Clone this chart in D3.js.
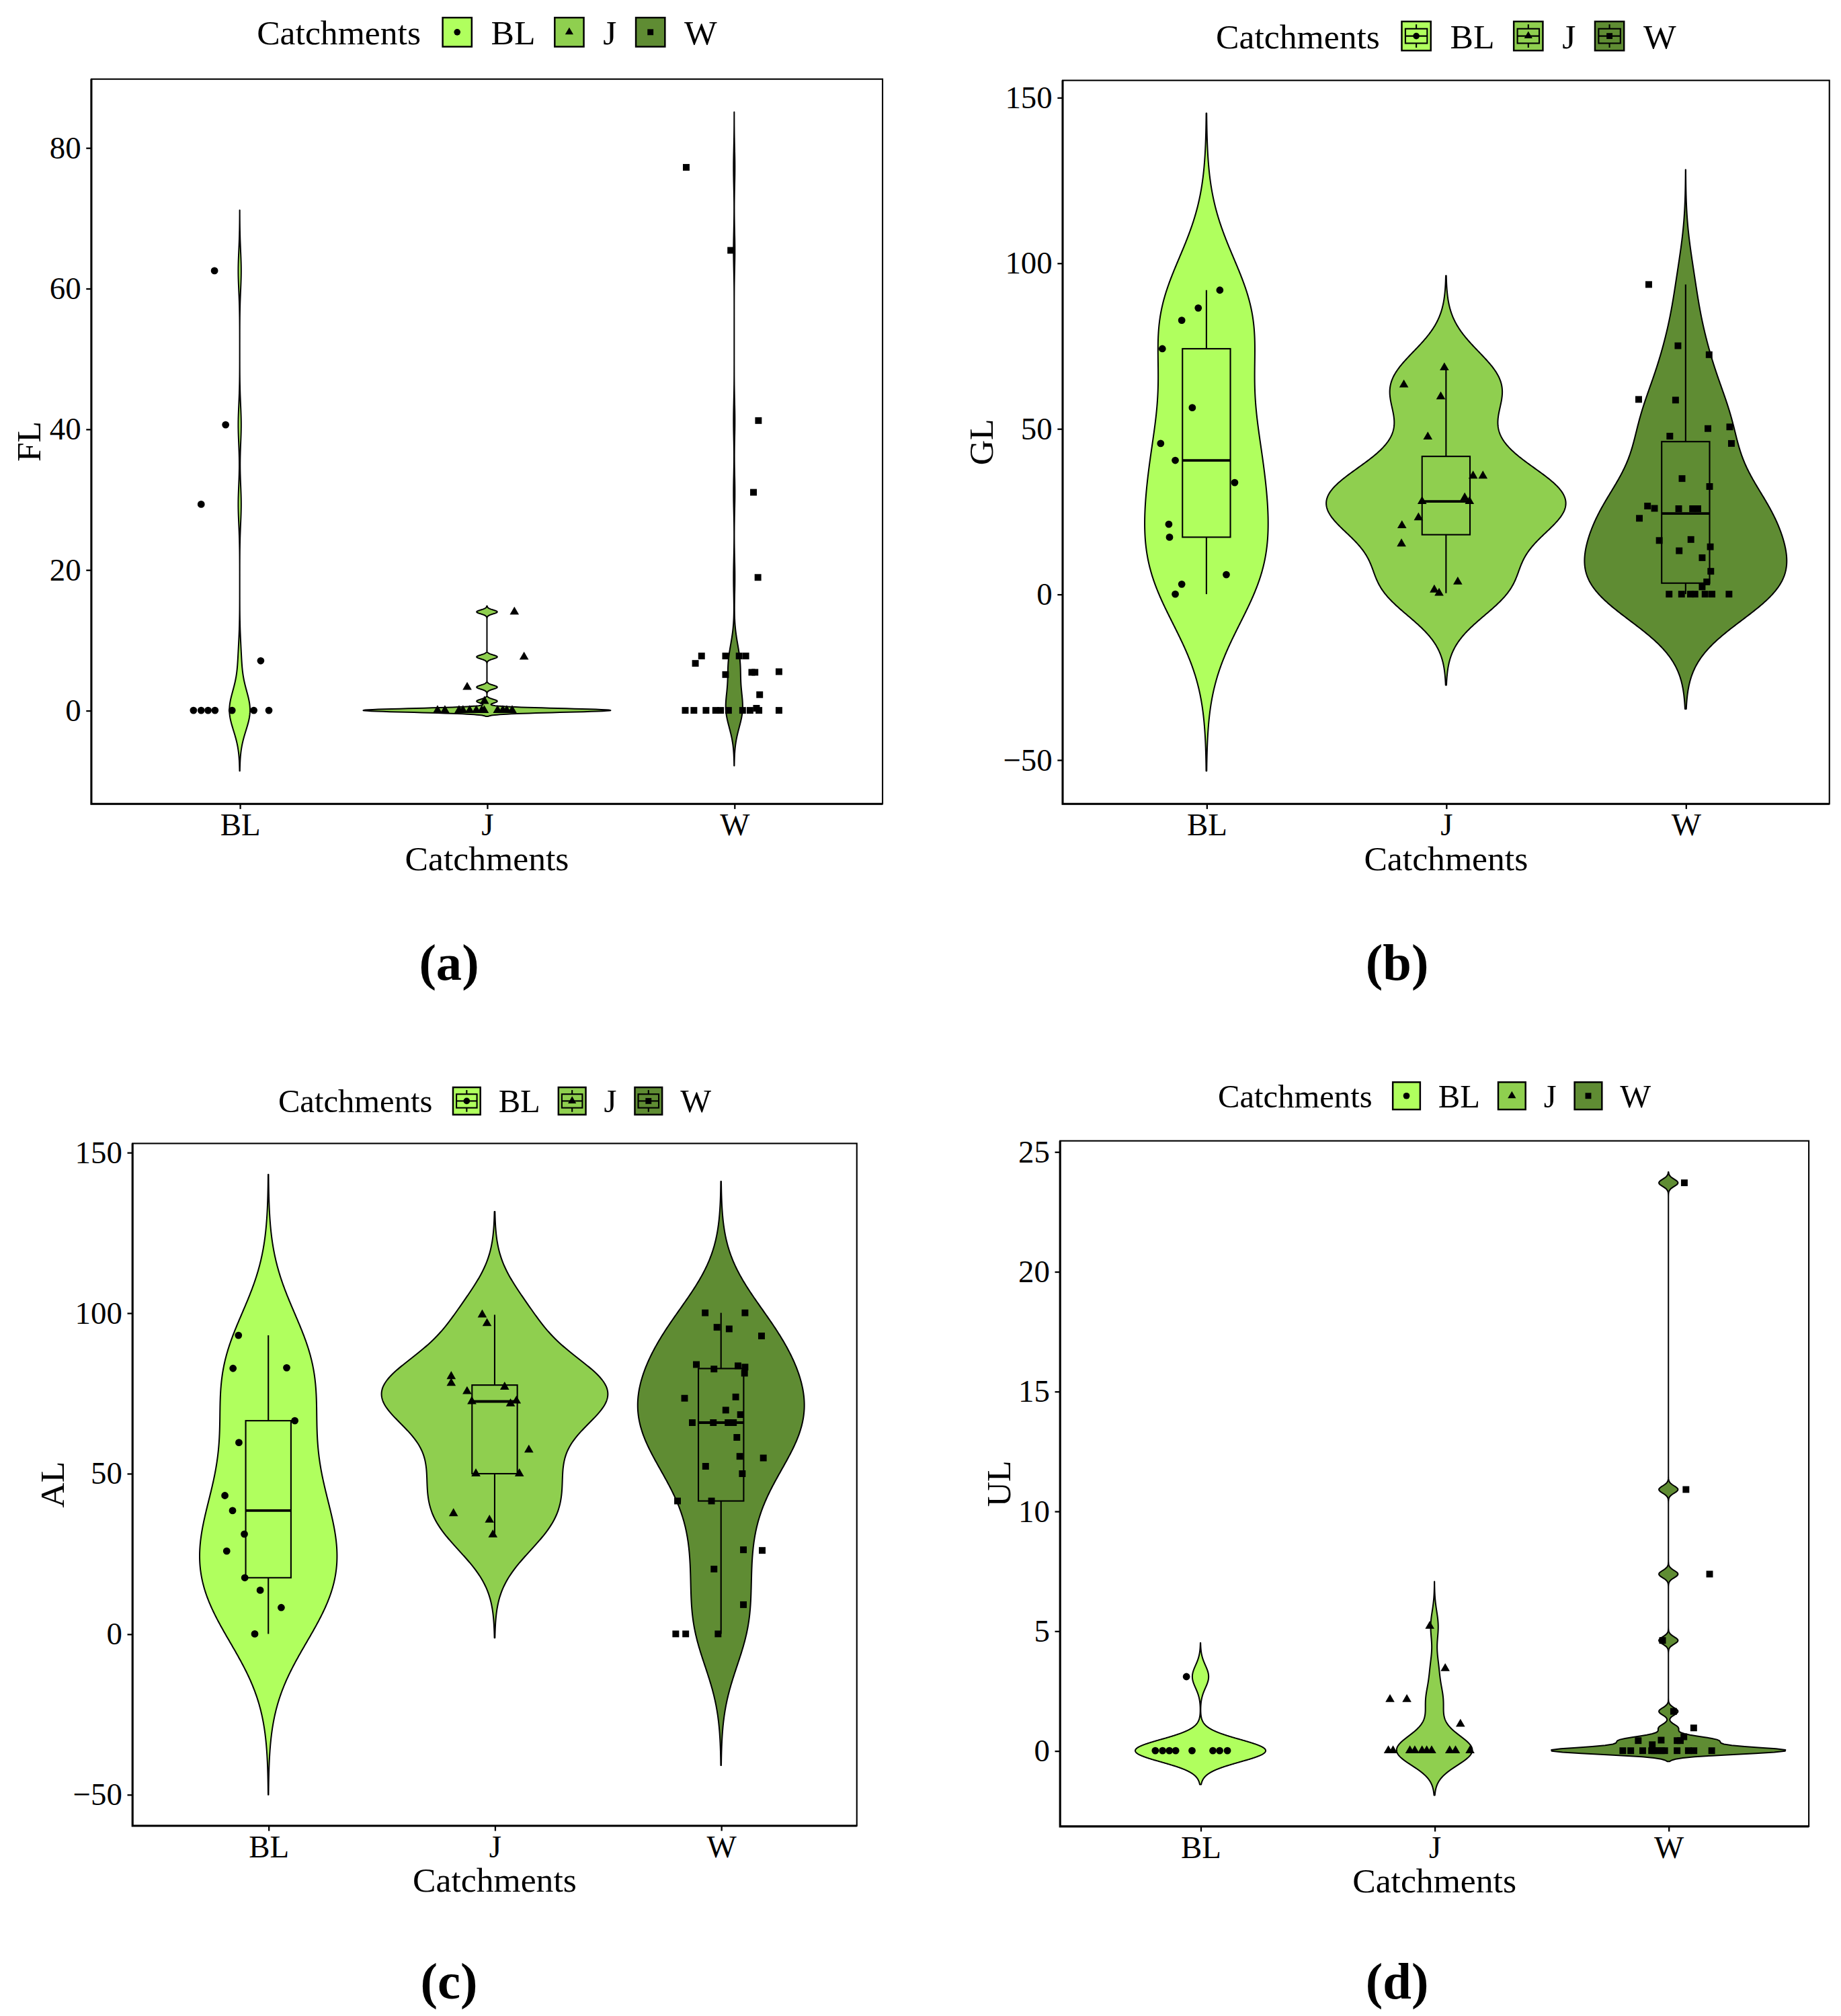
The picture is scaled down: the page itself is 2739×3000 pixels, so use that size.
<!DOCTYPE html>
<html>
<head>
<meta charset="utf-8">
<script src="https://cdnjs.cloudflare.com/ajax/libs/d3/7.8.5/d3.min.js"></script>
<style>
  body { margin: 0; background: #fff; }
  text { font-family: "Liberation Serif", "Times New Roman", serif; fill: #000; }
</style>
</head>
<body>
<script>
// catchments and their fills
const catchments = ["BL", "J", "W"];
const fills = ["#b0ff5e", "#8fcf4f", "#5f8c33"];

// (a) FL values and horizontal jitter (in category units)
const flBL = [0, 0, 0, 0, 0, 0, 0, 7.05, 29.3, 40.6, 62.5];
const flBLjit = [-0.187, -0.156, -0.128, -0.100, -0.031, 0.057, 0.118, 0.085, -0.156, -0.057, -0.102];
const flJ = [0, 0, 0, 0, 0, 0, 0, 0, 0, 0, 0, 0, 1.3, 3.3, 7.6, 14.0];
const flJjit = [-0.2, -0.17, -0.113, -0.097, -0.07, -0.043, -0.021, -0.011, 0.043, 0.064, 0.08, 0.102, -0.01, -0.08, 0.15, 0.111];
const flW = [77.2, 65.4, 41.2, 31.0, 18.9, 7.73, 6.68, 7.73, 7.73, 7.73, 5.09, 5.41, 5.41, 5.5, 2.23, 0.3, 0, 0, 0, 0, 0, 0, 0, 0, 0, 0];
const flWjit = [-0.194, -0.014, 0.098, 0.078, 0.096, -0.132, -0.157, -0.035, 0.02, 0.047, -0.035, 0.071, 0.084, 0.181, 0.103, 0.09, -0.198, -0.163, -0.114, -0.075, -0.055, -0.023, 0.034, 0.064, 0.1, 0.181];
const flBw = [2.87, 0.28, 2.62];
const flTicks = [0, 20, 40, 60, 80];

// (b) GL
const glBL = [91.8, 86.4, 82.7, 74.1, 56.3, 45.5, 40.4, 33.7, 21.1, 17.2, 5.9, 3.0, 0];
const glBLjit = [0.056, -0.034, -0.103, -0.184, -0.059, -0.191, -0.130, 0.118, -0.157, -0.154, 0.083, -0.103, -0.130];
const glJ = [68.4, 63.2, 59.6, 47.5, 35.7, 35.7, 29.1, 28.0, 28.0, 20.7, 23.1, 15.2, 1.3, 0.3, 3.7];
const glJjit = [-0.007, -0.176, -0.022, -0.076, 0.113, 0.154, 0.078, 0.098, -0.100, -0.184, -0.115, -0.186, -0.049, -0.029, 0.049];
const glW = [93.5, 75.0, 72.3, 58.8, 58.6, 50.0, 50.5, 45.5, 47.7, 34.9, 32.5, 26.6, 25.9, 25.8, 25.8, 25.8, 22.9, 16.5, 16.2, 14.3, 13.1, 11.0, 6.9, 3.7, 2.2, 0, 0, 0, 0, 0, 0, 0];
const glWjit = [-0.154, -0.032, 0.098, -0.196, -0.042, 0.093, 0.184, 0.191, -0.066, -0.015, 0.100, -0.159, -0.130, -0.029, 0.029, 0.051, -0.193, 0.022, -0.110, 0.103, -0.027, 0.069, 0.105, 0.088, 0.069, -0.069, -0.017, 0.039, 0.081, 0.110, 0.181, 0.02];
const glBw = [17.8, 9.25, 11.55];
const glTicks = [-50, 0, 50, 100, 150];

// (c) AL
const alBL = [93.0, 82.7, 82.9, 66.4, 59.6, 43.1, 38.4, 31.1, 25.8, 17.5, 13.6, 8.2, 0];
const alBLjit = [-0.132, -0.156, 0.081, 0.117, -0.130, -0.192, -0.158, -0.106, -0.184, -0.104, -0.036, 0.057, -0.060];
const alJ = [99.4, 96.7, 80.2, 78.1, 75.5, 76.9, 72.4, 71.7, 72.6, 57.3, 49.9, 49.9, 37.5, 35.5, 30.9];
const alJjit = [-0.055, -0.034, -0.192, -0.192, -0.122, 0.044, -0.101, 0.070, 0.096, 0.151, -0.083, 0.109, -0.182, -0.023, -0.008];
const alW = [100, 100, 95.5, 95, 92.8, 83.9, 82.5, 83.5, 83.1, 81.2, 73.4, 73.8, 69.7, 68.3, 65.8, 65.8, 65.8, 65.8, 61.2, 55.3, 54.8, 52.2, 49.9, 41.4, 41.4, 26.2, 26.0, 20.2, 9.1, 0, 0, 0];
const alWjit = [-0.070, 0.106, -0.018, 0.036, 0.179, -0.109, -0.031, 0.075, 0.106, 0.104, -0.161, 0.065, 0.021, 0.086, -0.127, -0.034, 0.031, 0.055, 0.070, 0.083, 0.187, -0.068, 0.094, -0.192, -0.042, 0.099, 0.182, -0.031, 0.099, -0.200, -0.156, -0.013];
const alBw = [16.7, 10.7, 13.65];
const alTicks = [-50, 0, 50, 100, 150];

// (d) UL
const ulBL = [0, 0, 0, 0, 0, 0, 0, 0, 3.09];
const ulBLjit = [-0.193, -0.162, -0.133, -0.106, -0.036, 0.053, 0.082, 0.115, -0.06];
const ulJ = [0, 0, 0, 0, 0, 0, 0, 0, 0, 0, 1.11, 2.14, 2.14, 3.43, 5.2];
const ulJjit = [-0.197, -0.177, -0.105, -0.084, -0.053, -0.033, -0.012, 0.065, 0.09, 0.152, 0.111, -0.19, -0.118, 0.046, -0.02];
const ulW = [0, 0, 0, 0, 0, 0, 0, 0, 0, 0, 0, 0, 0.25, 0.44, 0.42, 0.42, 0.42, 0.58, 0.95, 1.64, 4.6, 7.37, 10.9, 23.7];
const ulWjit = [-0.195, -0.161, -0.110, -0.072, -0.045, -0.016, 0.037, 0.085, 0.109, 0.185, -0.06, -0.03, -0.069, -0.031, -0.129, 0.037, 0.051, 0.066, 0.108, 0.022, -0.025, 0.176, 0.075, 0.068];
const ulBw = [0.47, 0.62, 0.15];
const ulTicks = [0, 5, 10, 15, 20, 25];

const W = 1431, H = 1567.4;
const svg = d3.select("body").append("svg")
  .attr("width", 2739).attr("height", 3000)
  .attr("viewBox", "0 0 " + W + " " + H);

const shapes = [d3.symbolCircle, d3.symbolTriangle, d3.symbolSquare];
const shapeSize = [25, 22, 27];

const panels = [
  { tag: "(a)", yName: "FL", vals: [flBL, flJ, flW], jit: [flBLjit, flJjit, flWjit], bw: flBw, ticks: flTicks, box: false,
    left: 71, right: 686, top: 61.5, bottom: 625, legendY: 25, legendFont: 27, yTitleX: 22, tagX: 349, tagY: 748 },
  { tag: "(b)", yName: "GL", vals: [glBL, glJ, glW], jit: [glBLjit, glJjit, glWjit], bw: glBw, ticks: glTicks, box: true,
    left: 826, right: 1422, top: 62.5, bottom: 625, legendY: 28, legendFont: 27, yTitleX: 762, tagX: 1086, tagY: 748 },
  { tag: "(c)", yName: "AL", vals: [alBL, alJ, alW], jit: [alBLjit, alJjit, alWjit], bw: alBw, ticks: alTicks, box: true,
    left: 103, right: 666, top: 889, bottom: 1419.5, legendY: 856, legendFont: 25.4, yTitleX: 40, tagX: 349, tagY: 1540 },
  { tag: "(d)", yName: "UL", vals: [ulBL, ulJ, ulW], jit: [ulBLjit, ulJjit, ulWjit], bw: ulBw, ticks: ulTicks, box: false,
    left: 824, right: 1406, top: 887, bottom: 1420, legendY: 852, legendFont: 25.4, yTitleX: 776, tagX: 1086, tagY: 1540 }
];

function kde(values, bw) {
  const lo = d3.min(values) - 3 * bw, hi = d3.max(values) + 3 * bw, n = 512;
  const c = 1 / (values.length * bw * Math.sqrt(2 * Math.PI));
  return d3.range(n).map(i => {
    const y = lo + (hi - lo) * i / (n - 1);
    return [y, c * d3.sum(values, v => Math.exp(-0.5 * Math.pow((y - v) / bw, 2)))];
  });
}

function fmt(d) { return d < 0 ? "\u2212" + Math.abs(d) : String(d); }

panels.forEach(p => {
  const g = svg.append("g");
  const dens = p.vals.map((v, i) => kde(v, p.bw[i]));
  const dmax = d3.max(dens, d => d3.max(d, e => e[1]));
  const lo = d3.min(dens, d => d[0][0]), hi = d3.max(dens, d => d[d.length - 1][0]);
  const pad = (hi - lo) * 0.05;

  const x = d3.scalePoint().domain(catchments).range([p.left, p.right]).padding(0.6);
  const step = x.step();
  const y = d3.scaleLinear().domain([lo - pad, hi + pad]).range([p.bottom, p.top]);

  // violins
  dens.forEach((d, i) => {
    const cx = x(catchments[i]);
    const area = d3.area()
      .y(e => y(e[0]))
      .x0(e => cx - e[1] / dmax * 0.5 * step)
      .x1(e => cx + e[1] / dmax * 0.5 * step);
    g.append("path").attr("d", area(d))
      .attr("fill", fills[i]).attr("stroke", "#000").attr("stroke-width", 1.05)
      .attr("stroke-linejoin", "round");
  });

  // boxplots
  if (p.box) {
    p.vals.forEach((v, i) => {
      const s = v.slice().sort(d3.ascending);
      const q1 = d3.quantile(s, 0.25), med = d3.quantile(s, 0.5), q3 = d3.quantile(s, 0.75);
      const iqr = q3 - q1;
      const wLo = d3.min(s.filter(e => e >= q1 - 1.5 * iqr));
      const wHi = d3.max(s.filter(e => e <= q3 + 1.5 * iqr));
      const cx = x(catchments[i]), hw = 0.1 * step;
      g.append("line").attr("x1", cx).attr("x2", cx).attr("y1", y(wHi)).attr("y2", y(q3))
        .attr("stroke", "#000").attr("stroke-width", 1.1);
      g.append("line").attr("x1", cx).attr("x2", cx).attr("y1", y(q1)).attr("y2", y(wLo))
        .attr("stroke", "#000").attr("stroke-width", 1.1);
      g.append("rect").attr("x", cx - hw).attr("width", 2 * hw)
        .attr("y", y(q3)).attr("height", y(q1) - y(q3))
        .attr("fill", fills[i]).attr("stroke", "#000").attr("stroke-width", 1.1);
      g.append("line").attr("x1", cx - hw).attr("x2", cx + hw).attr("y1", y(med)).attr("y2", y(med))
        .attr("stroke", "#000").attr("stroke-width", 2.0);
    });
  }

  // jittered points
  p.vals.forEach((v, i) => {
    g.append("g").selectAll("path").data(v).join("path")
      .attr("d", d3.symbol(shapes[i], shapeSize[i]))
      .attr("transform", (d, k) => "translate(" + (x(catchments[i]) + p.jit[i][k] * step) + "," + y(d) + ")")
      .attr("fill", "#000");
  });

  // panel frame
  g.append("rect").attr("x", p.left).attr("y", p.top)
    .attr("width", p.right - p.left).attr("height", p.bottom - p.top)
    .attr("fill", "none").attr("stroke", "#000").attr("stroke-width", 1.1);
  g.append("path").attr("d", "M" + p.left + "," + p.top + "V" + p.bottom + "H" + p.right)
    .attr("fill", "none").attr("stroke", "#000").attr("stroke-width", 1.6);

  // axes
  const yAxis = g.append("g").attr("transform", "translate(" + p.left + ",0)")
    .call(d3.axisLeft(y).tickValues(p.ticks).tickFormat(fmt).tickSize(4).tickPadding(4));
  const xAxis = g.append("g").attr("transform", "translate(0," + p.bottom + ")")
    .call(d3.axisBottom(x).tickSize(4).tickPadding(3));
  [yAxis, xAxis].forEach(a => {
    a.select(".domain").remove();
    a.selectAll(".tick line").attr("stroke", "#000").attr("stroke-width", 1.2);
    a.selectAll(".tick text").attr("font-size", 24.5).attr("font-family", "Liberation Serif").attr("fill", "#000");
  });

  g.append("text").attr("x", (p.left + p.right) / 2).attr("y", p.bottom + 42).attr("dy", "0.35em")
    .attr("text-anchor", "middle").attr("font-size", 27).text("Catchments");
  g.append("text").attr("transform", "translate(" + p.yTitleX + "," + ((p.top + p.bottom) / 2) + ") rotate(-90)")
    .attr("dy", "0.35em").attr("text-anchor", "middle").attr("font-size", 27).text(p.yName);
  g.append("text").attr("x", p.tagX).attr("y", p.tagY).attr("dy", "0.35em")
    .attr("text-anchor", "middle").attr("font-size", 40).attr("font-weight", "bold").text(p.tag);

  // legend
  const lg = g.append("g");
  const fs = p.legendFont, keySize = 22.6 * fs / 27, gap = 15 * fs / 27;
  let cur = 0;
  const t0 = lg.append("text").attr("x", cur).attr("y", 0).attr("dy", "0.35em").attr("font-size", fs).text("Catchments");
  cur += t0.node().getComputedTextLength() + 17 * fs / 27;
  catchments.forEach((c, i) => {
    const k = lg.append("g").attr("transform", "translate(" + cur + "," + (-keySize / 2) + ")");
    k.append("rect").attr("width", keySize).attr("height", keySize)
      .attr("fill", fills[i]).attr("stroke", "#000").attr("stroke-width", 1.3);
    if (p.box) {
      k.append("line").attr("x1", keySize / 2).attr("x2", keySize / 2).attr("y1", 0.1 * keySize).attr("y2", 0.9 * keySize)
        .attr("stroke", "#000").attr("stroke-width", 1.1);
      k.append("rect").attr("x", 0.125 * keySize).attr("y", 0.25 * keySize)
        .attr("width", 0.75 * keySize).attr("height", 0.5 * keySize)
        .attr("fill", fills[i]).attr("stroke", "#000").attr("stroke-width", 1.1);
      k.append("line").attr("x1", 0.125 * keySize).attr("x2", 0.875 * keySize).attr("y1", keySize / 2).attr("y2", keySize / 2)
        .attr("stroke", "#000").attr("stroke-width", 1.1);
    }
    k.append("path").attr("d", d3.symbol(shapes[i], shapeSize[i] * 0.8))
      .attr("transform", "translate(" + keySize / 2 + "," + keySize / 2 + ")").attr("fill", "#000");
    cur += keySize + gap;
    const t = lg.append("text").attr("x", cur).attr("y", 0).attr("dy", "0.35em").attr("font-size", fs).text(c);
    cur += t.node().getComputedTextLength() + gap;
  });
  const total = cur - gap;
  lg.attr("transform", "translate(" + ((p.left + p.right) / 2 - total / 2) + "," + p.legendY + ")");
});
</script>
</body>
</html>
